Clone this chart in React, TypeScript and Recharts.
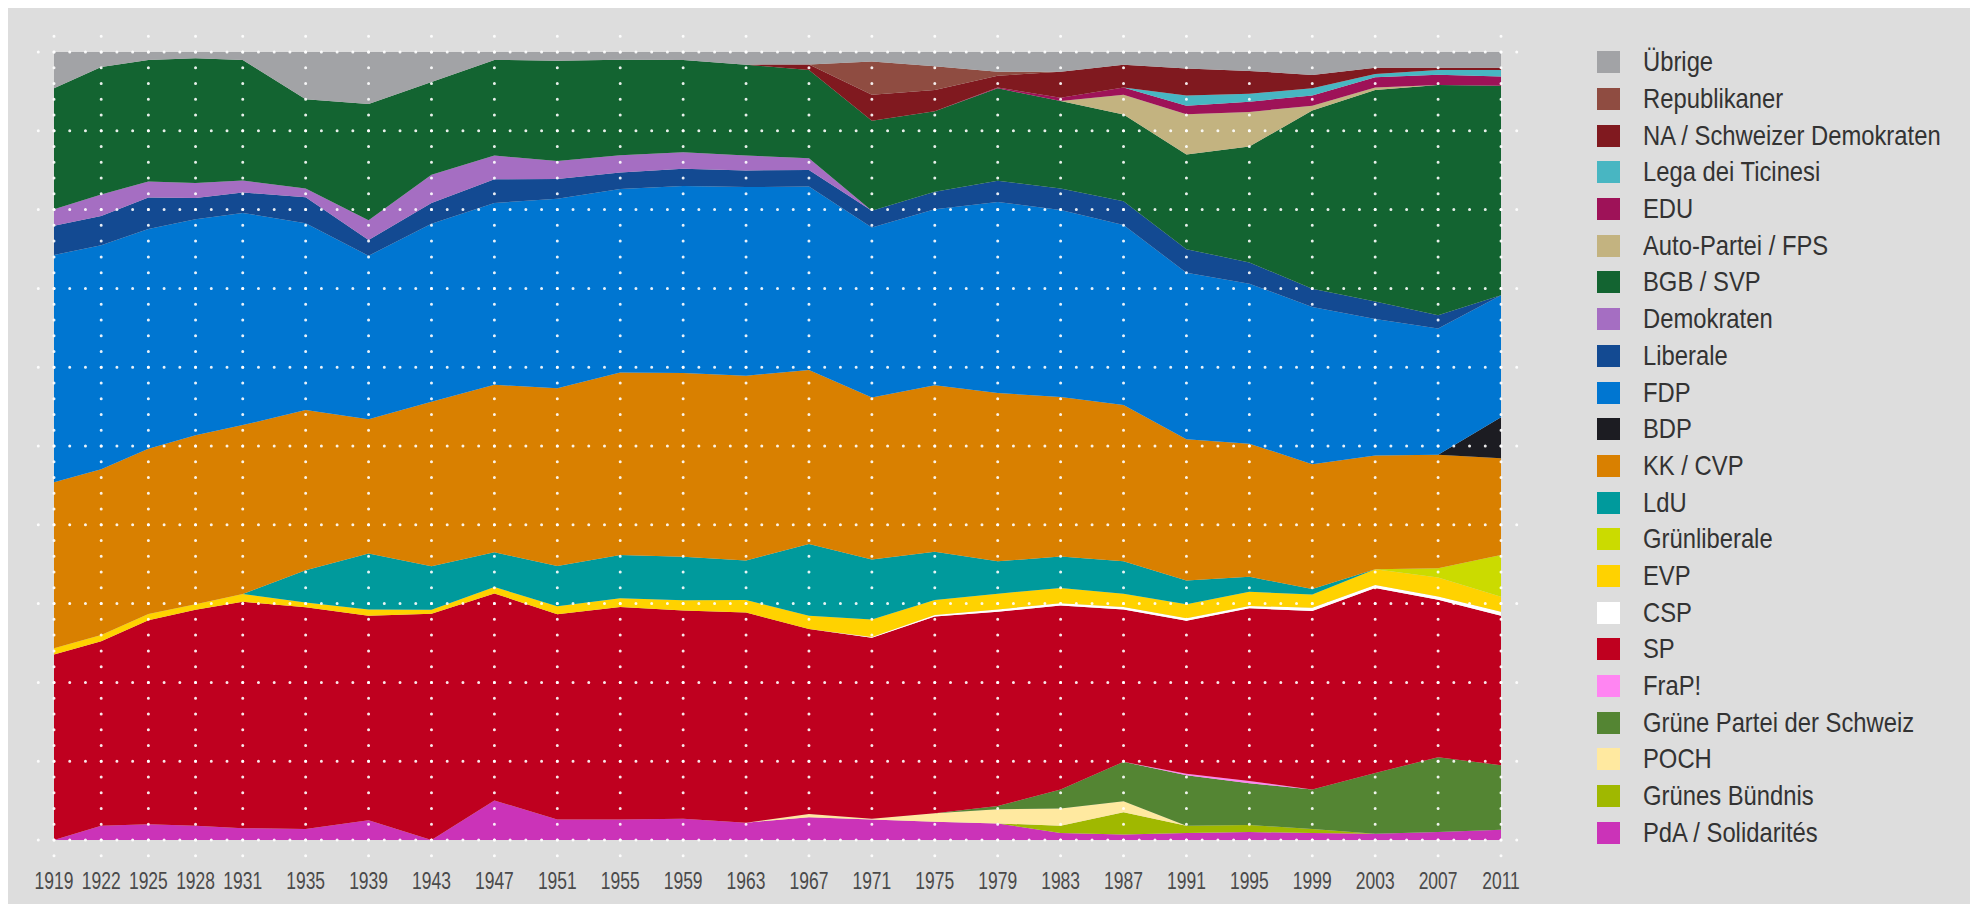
import { AreaChart, Area, LineChart, XAxis, YAxis, CartesianGrid } from 'recharts';

// Nationalratswahlen, Parteistärken in Prozent
const years = [1919, 1922, 1925, 1928, 1931, 1935, 1939, 1943, 1947, 1951, 1955, 1959, 1963, 1967, 1971, 1975, 1979, 1983, 1987, 1991, 1995, 1999, 2003, 2007, 2011];

const pda = [0, 1.8, 2.0, 1.8, 1.5, 1.4, 2.5, 0, 5.0, 2.6, 2.6, 2.7, 2.2, 2.9, 2.6, 2.3, 2.1, 0.9, 0.7, 0.9, 1.0, 0.9, 0.8, 1.0, 1.3];
const gruenesBuendnis = [0, 0, 0, 0, 0, 0, 0, 0, 0, 0, 0, 0, 0, 0, 0, 0, 0, 0.9, 2.8, 0.9, 0.9, 0.5, 0, 0, 0];
const poch = [0, 0, 0, 0, 0, 0, 0, 0, 0, 0, 0, 0, 0, 0.4, 0.1, 1.1, 1.8, 2.2, 1.4, 0, 0, 0, 0, 0, 0];
const gps = [0, 0, 0, 0, 0, 0, 0, 0, 0, 0, 0, 0, 0, 0, 0, 0, 0.4, 2.4, 5.0, 6.4, 5.3, 5.0, 7.7, 9.5, 8.2];
const frap = [0, 0, 0, 0, 0, 0, 0, 0, 0, 0, 0, 0, 0, 0, 0, 0, 0, 0, 0, 0.2, 0.3, 0, 0, 0, 0];
const sp = [23.5, 23.3, 25.8, 27.4, 28.7, 28.1, 25.9, 28.6, 26.2, 26.0, 27.0, 26.4, 26.6, 23.5, 22.9, 24.9, 24.6, 23.3, 19.3, 19.4, 21.9, 22.6, 23.4, 20.0, 19.0];
const csp = [0, 0, 0, 0, 0, 0, 0, 0, 0, 0, 0, 0, 0, 0, 0.1, 0.2, 0.3, 0.3, 0.3, 0.3, 0.3, 0.4, 0.4, 0.4, 0.5];
const evp = [0.8, 0.8, 0.8, 0.7, 1.0, 0.6, 0.8, 0.5, 0.8, 1.0, 1.1, 1.3, 1.6, 1.7, 2.2, 1.9, 2.0, 1.9, 1.7, 1.8, 1.8, 1.7, 2.0, 2.4, 1.9];
const glp = [0, 0, 0, 0, 0, 0, 0, 0, 0, 0, 0, 0, 0, 0, 0, 0, 0, 0, 0, 0, 0, 0, 0, 1.2, 5.3];
const ldu = [0, 0, 0, 0, 0, 4.1, 7.1, 5.5, 4.4, 5.1, 5.5, 5.5, 5.0, 9.1, 7.6, 6.1, 4.1, 4.0, 4.1, 3.0, 1.9, 0.7, 0, 0, 0];
const cvp = [21.0, 20.9, 20.9, 21.4, 21.4, 20.3, 17.0, 20.8, 21.2, 22.5, 23.2, 23.3, 23.4, 22.1, 20.5, 21.1, 21.3, 20.2, 19.8, 17.9, 16.9, 15.8, 14.4, 14.4, 12.3];
const bdp = [0, 0, 0, 0, 0, 0, 0, 0, 0, 0, 0, 0, 0, 0, 0, 0, 0, 0, 0, 0, 0, 0, 0, 0, 5.2];
const fdp = [28.8, 28.3, 27.8, 27.4, 26.9, 23.7, 20.7, 22.5, 23.0, 24.0, 23.3, 23.7, 23.9, 23.3, 21.5, 22.3, 24.2, 23.7, 22.8, 21.1, 20.3, 19.9, 17.3, 16.0, 15.5];
const liberale = [3.7, 3.7, 4.0, 2.7, 2.6, 3.3, 2.0, 2.6, 3.0, 2.5, 2.1, 2.2, 2.1, 2.1, 2.1, 2.2, 2.7, 2.7, 3.0, 3.0, 2.7, 2.3, 2.2, 1.7, 0];
const demokraten = [2.1, 2.7, 2.0, 1.9, 1.5, 1.1, 2.5, 3.6, 3.0, 2.3, 2.2, 2.1, 1.9, 1.5, 0, 0, 0, 0, 0, 0, 0, 0, 0, 0, 0];
const svp = [15.3, 16.1, 15.4, 15.8, 15.3, 11.3, 14.7, 11.7, 12.1, 12.7, 12.1, 11.7, 11.5, 11.2, 11.4, 10.2, 11.7, 11.1, 11.0, 12.0, 14.7, 22.6, 26.8, 29.2, 26.6];
const autoPartei = [0, 0, 0, 0, 0, 0, 0, 0, 0, 0, 0, 0, 0, 0, 0, 0, 0, 0, 2.5, 5.1, 4.4, 0.6, 0.3, 0, 0];
const edu = [0, 0, 0, 0, 0, 0, 0, 0, 0, 0, 0, 0, 0, 0, 0, 0, 0.1, 0.4, 0.9, 1.1, 1.3, 1.3, 1.3, 1.3, 1.2];
const lega = [0, 0, 0, 0, 0, 0, 0, 0, 0, 0, 0, 0, 0, 0, 0, 0, 0, 0, 0, 1.3, 1.0, 0.9, 0.4, 0.6, 0.8];
const naSd = [0, 0, 0, 0, 0, 0, 0, 0, 0, 0, 0, 0, 0, 0.7, 3.3, 2.7, 1.5, 3.3, 2.9, 3.4, 2.9, 1.7, 0.8, 0.3, 0.3];
const republikaner = [0, 0, 0, 0, 0, 0, 0, 0, 0, 0, 0, 0, 0, 0, 4.2, 3.0, 0.5, 0, 0, 0, 0, 0, 0, 0, 0];
const uebrige = [4.6, 1.9, 1.0, 0.8, 1.0, 6.0, 6.6, 3.8, 1.0, 1.1, 1.0, 1.0, 1.6, 1.6, 1.2, 1.8, 2.5, 2.5, 1.6, 2.1, 2.4, 2.9, 2.0, 2.0, 2.0];

const yTicks = [0, 0.1, 0.2, 0.3, 0.4, 0.5, 0.6, 0.7, 0.8, 0.9, 1];

// bottom to top
const series = [
  { key: 'pda', name: 'PdA / Solidarités', color: '#cb33b8', values: pda },
  { key: 'gb', name: 'Grünes Bündnis', color: '#a0b800', values: gruenesBuendnis },
  { key: 'poch', name: 'POCH', color: '#ffe9a0', values: poch },
  { key: 'gps', name: 'Grüne Partei der Schweiz', color: '#548533', values: gps },
  { key: 'frap', name: 'FraP!', color: '#ff85f2', values: frap },
  { key: 'sp', name: 'SP', color: '#bf001f', values: sp },
  { key: 'csp', name: 'CSP', color: '#ffffff', values: csp },
  { key: 'evp', name: 'EVP', color: '#ffd200', values: evp },
  { key: 'glp', name: 'Grünliberale', color: '#cbdb00', values: glp },
  { key: 'ldu', name: 'LdU', color: '#009a9c', values: ldu },
  { key: 'cvp', name: 'KK / CVP', color: '#d98000', values: cvp },
  { key: 'bdp', name: 'BDP', color: '#1c1c22', values: bdp },
  { key: 'fdp', name: 'FDP', color: '#0076d1', values: fdp },
  { key: 'lib', name: 'Liberale', color: '#134a92', values: liberale },
  { key: 'dem', name: 'Demokraten', color: '#a56ec2', values: demokraten },
  { key: 'svp', name: 'BGB / SVP', color: '#136431', values: svp },
  { key: 'fps', name: 'Auto-Partei / FPS', color: '#c3b380', values: autoPartei },
  { key: 'edu', name: 'EDU', color: '#9e1258', values: edu },
  { key: 'lega', name: 'Lega dei Ticinesi', color: '#48b6c2', values: lega },
  { key: 'sd', name: 'NA / Schweizer Demokraten', color: '#80191f', values: naSd },
  { key: 'rep', name: 'Republikaner', color: '#8f4c41', values: republikaner },
  { key: 'other', name: 'Übrige', color: '#a2a3a6', values: uebrige },
];

const data = years.map((year, i) => {
  const row: Record<string, number> = { year };
  series.forEach((s) => {
    row[s.key] = s.values[i];
  });
  return row;
});

const W = 1530;
const H = 896;
const margin = { top: 44, right: 37, bottom: 14, left: 46 };
const font = '"Liberation Sans", Arial, sans-serif';

function DotRow(props: any) {
  const { x1, x2, y1, index } = props;
  const step = (x2 - x1) / (years[years.length - 1] - years[0]);
  return (
    <line
      key={`h-${index}`}
      x1={x1 - step}
      x2={x2 + step + 0.5}
      y1={y1}
      y2={y1}
      stroke="#ffffff"
      strokeOpacity={0.9}
      strokeWidth={3}
      strokeLinecap="round"
      strokeDasharray={`0 ${step}`}
    />
  );
}

function DotColumn(props: any) {
  const { x1, y1, y2, index } = props;
  const step = (y2 - y1) / 50;
  return (
    <line
      key={`v-${index}`}
      x1={x1}
      x2={x1}
      y1={y1 - step}
      y2={y2 + step + 0.5}
      stroke="#ffffff"
      strokeOpacity={0.9}
      strokeWidth={3}
      strokeLinecap="round"
      strokeDasharray={`0 ${step}`}
    />
  );
}

// grid rows every 10 %, placed inside the plot area
function rowCoordinates({ offset }: any) {
  return yTicks.map((t) => offset.top + offset.height * (1 - t));
}

function YearTick(props: any) {
  const { x, y, payload } = props;
  return (
    <g transform={`translate(${x},${y})`}>
      <text
        textAnchor="middle"
        dy="0.71em"
        transform="scale(0.76,1)"
        fill="#4a4a4a"
        fontSize={23}
        fontFamily={font}
      >
        {payload.value}
      </text>
    </g>
  );
}

export default function App() {
  return (
    <div style={{ position: 'relative', width: 1962, height: 896, background: '#dddddd', fontFamily: font }}>
      <div style={{ position: 'absolute', left: 0, top: 0 }}>
        <AreaChart width={W} height={H} data={data} margin={margin} stackOffset="expand">
          <XAxis dataKey="year" type="number" domain={[1919, 2011]} ticks={years} height={50} tick={false} axisLine={false} tickLine={false} />
          <YAxis width={0} domain={[0, 1]} ticks={yTicks} tick={false} axisLine={false} tickLine={false} />
          {series.map((s) => (
            <Area
              key={s.key}
              type="linear"
              dataKey={s.key}
              name={s.name}
              stackId="1"
              stroke="none"
              fill={s.color}
              fillOpacity={1}
              isAnimationActive={false}
              activeDot={false}
            />
          ))}
        </AreaChart>
      </div>
      <div style={{ position: 'absolute', left: 0, top: 0 }}>
        <LineChart width={W} height={H} data={data} margin={margin}>
          <CartesianGrid horizontal={DotRow} vertical={DotColumn} horizontalCoordinatesGenerator={rowCoordinates} />
          <XAxis
            dataKey="year"
            type="number"
            domain={[1919, 2011]}
            ticks={years}
            interval={0}
            height={50}
            axisLine={false}
            tickLine={false}
            tickMargin={27}
            tick={<YearTick />}
          />
          <YAxis width={0} domain={[0, 1]} ticks={yTicks} tick={false} axisLine={false} tickLine={false} />
        </LineChart>
      </div>
      <div style={{ position: 'absolute', left: 1589, top: 36 }}>
        {[...series].reverse().map((s) => (
          <div key={s.key} style={{ display: 'flex', alignItems: 'center', height: 36.7, whiteSpace: 'nowrap' }}>
            <div style={{ width: 23, height: 22, background: s.color, marginRight: 23, flexShrink: 0 }} />
            <span
              style={{
                display: 'inline-block',
                fontSize: 28,
                color: '#333333',
                lineHeight: 1,
                transform: 'scaleX(0.85)',
                transformOrigin: 'left center',
              }}
            >
              {s.name}
            </span>
          </div>
        ))}
      </div>
    </div>
  );
}
